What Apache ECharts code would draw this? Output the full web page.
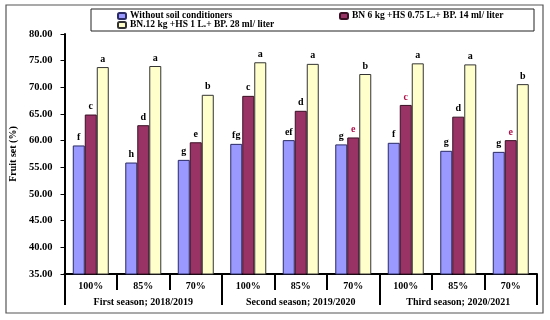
<!DOCTYPE html>
<html>
<head>
<meta charset="utf-8">
<script src="https://cdn.jsdelivr.net/npm/echarts@6/dist/echarts.min.js"></script>
<style>
html,body{margin:0;padding:0;background:#fff;}
#chart{width:550px;height:320px;}
</style>
</head>
<body>
<div id="chart"></div>
<script>
const categories = ['100%','85%','70%','100%','85%','70%','100%','85%','70%'];
const seasons = ['First season; 2018/2019','Second season; 2019/2020','Third season; 2020/2021'];
const seriesNames = ['Without soil conditioners','BN 6 kg +HS 0.75 L.+ BP. 14 ml/ liter','BN.12 kg +HS 1 L.+ BP. 28 ml/ liter'];
const withoutSoil = [59.1, 55.9, 56.4, 59.4, 60.1, 59.3, 59.6, 58.1, 57.9];
const bn6 = [64.9, 62.9, 59.7, 68.4, 65.6, 60.6, 66.7, 64.5, 60.1];
const bn12 = [73.8, 74.0, 68.6, 74.7, 74.4, 72.5, 74.5, 74.3, 70.6];
const lettersWithout = ['f','h','g','fg','ef','g','f','g','g'];
const lettersBn6 = ['c','d','e','c','d','e','c','d','e'];
const lettersBn12 = ['a','a','b','a','a','b','a','a','b'];
const yTicks = ['35.00','40.00','45.00','50.00','55.00','60.00','65.00','70.00','75.00','80.00'];
const redLetterIdx = [5, 6, 8];

const FONT = 'Liberation Serif';
const colors = ['#9999FF', '#993366', '#FFFFCC'];

function mkData(vals, letters, redIdx) {
  return vals.map((v, i) => {
    const item = { value: v, letter: letters[i] };
    if (redIdx && redIdx.indexOf(i) >= 0) item.label = { color: '#B0104A' };
    return item;
  });
}

const chart = echarts.init(document.getElementById('chart'), null, { renderer: 'canvas' });

const labelCfg = {
  show: true, position: 'top', distance: 3,
  fontFamily: FONT, fontWeight: 'bold', fontSize: 10, color: '#000',
  formatter: p => p.data.letter
};

const legendBase = {
  itemWidth: 8, itemHeight: 6, itemGap: 4,
  textStyle: { fontFamily: FONT, fontWeight: 'bold', fontSize: 9.5, color: '#000', padding: [0,0,0,-1] },
  padding: 0, selectedMode: false
};

chart.setOption({
  animation: false,
  backgroundColor: '#fff',
  color: colors,
  graphic: [
    { type: 'rect', shape: { x: 6, y: 5, width: 537, height: 308 }, style: { fill: 'none', stroke: '#555', lineWidth: 1.2 }, z: -1 },
    { type: 'rect', shape: { x: 91, y: 9, width: 443, height: 22 }, style: { fill: '#fff', stroke: '#222', lineWidth: 1 }, z: 0 }
  ],
  legend: [
    Object.assign({ left: 117, top: 11, data: [seriesNames[0]] }, legendBase),
    Object.assign({ left: 339, top: 11, data: [seriesNames[1]] }, legendBase),
    Object.assign({ left: 117, top: 20, data: [seriesNames[2]] }, legendBase)
  ],
  grid: { left: 60, right: 13, top: 34, bottom: 46, containLabel: false },
  xAxis: [
    {
      type: 'category', data: categories, position: 'bottom',
      axisLine: { show: true, lineStyle: { color: '#000', width: 2 } },
      axisTick: { show: true, interval: 0, length: 16, lineStyle: { color: '#000', width: 2 } },
      axisLabel: { interval: 0, margin: 7, fontFamily: FONT, fontWeight: 'bold', fontSize: 10, color: '#000' }
    },
    {
      type: 'category', data: seasons, position: 'bottom', gridIndex: 0,
      axisLine: { show: false },
      axisTick: { show: true, interval: 0, length: 31, lineStyle: { color: '#000', width: 2 } },
      axisLabel: { interval: 0, margin: 23, fontFamily: FONT, fontWeight: 'bold', fontSize: 10, color: '#000' }
    }
  ],
  yAxis: {
    type: 'value', min: 35, max: 80, interval: 5,
    name: 'Fruit set (%)', nameLocation: 'middle', nameGap: 35, nameRotate: 90,
    nameTextStyle: { fontFamily: FONT, fontWeight: 'bold', fontSize: 10, color: '#000' },
    axisLine: { show: true, lineStyle: { color: '#000', width: 2 } },
    axisTick: { show: true, length: 4, lineStyle: { color: '#000', width: 1 } },
    splitLine: { show: false },
    axisLabel: {
      margin: 12, fontFamily: FONT, fontWeight: 'bold', fontSize: 10.5, color: '#000',
      formatter: v => yTicks[Math.round((v - 35) / 5)] || v.toFixed(2)
    }
  },
  series: [
    { name: seriesNames[0], type: 'bar', barWidth: 12, barGap: '0%', xAxisIndex: 0,
      itemStyle: { color: colors[0], borderColor: '#2a2a66', borderWidth: 1 },
      label: labelCfg, data: mkData(withoutSoil, lettersWithout) },
    { name: seriesNames[1], type: 'bar', barWidth: 12, barGap: '0%', xAxisIndex: 0,
      itemStyle: { color: colors[1], borderColor: '#3a1024', borderWidth: 1 },
      label: labelCfg, data: mkData(bn6, lettersBn6, redLetterIdx) },
    { name: seriesNames[2], type: 'bar', barWidth: 12, barGap: '0%', xAxisIndex: 0,
      itemStyle: { color: colors[2], borderColor: '#333', borderWidth: 1 },
      label: labelCfg, data: mkData(bn12, lettersBn12) }
  ]
});
</script>
</body>
</html>
